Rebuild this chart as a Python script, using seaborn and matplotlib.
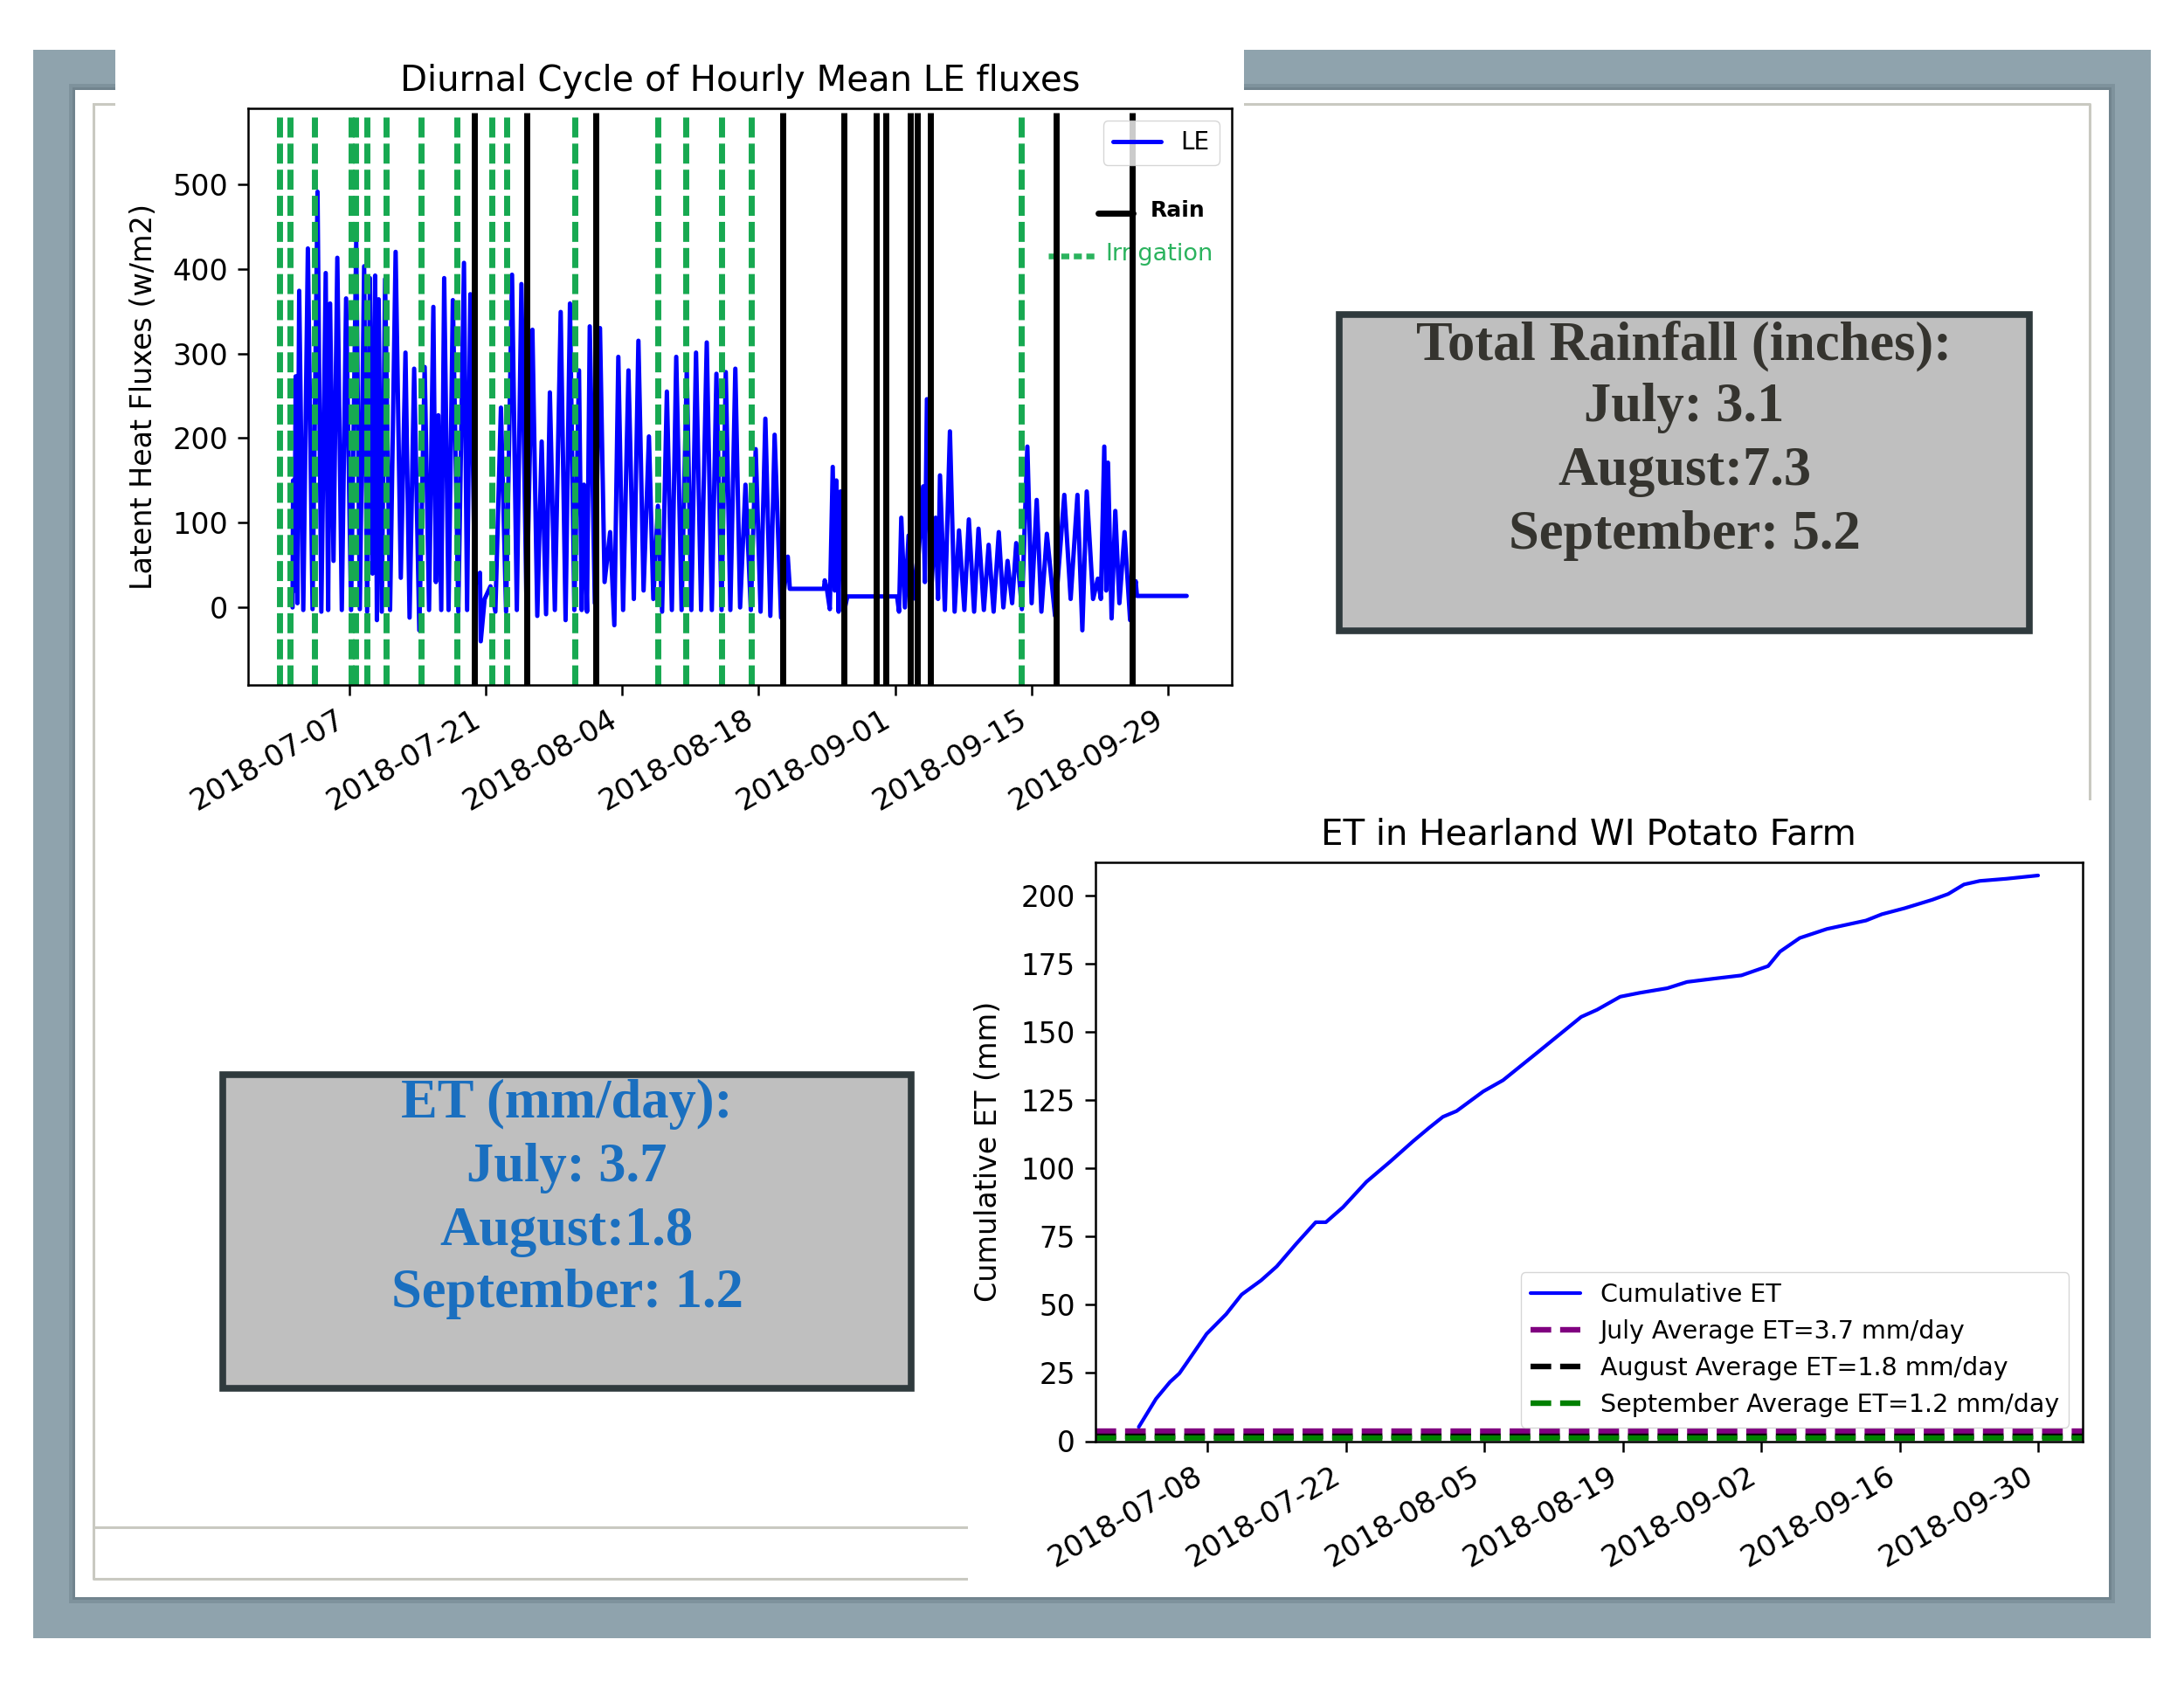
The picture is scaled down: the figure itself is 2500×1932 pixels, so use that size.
import numpy as np
import pandas as pd
import matplotlib
matplotlib.use("Agg")
import matplotlib.pyplot as plt
import matplotlib.dates as mdates
from matplotlib.patches import Rectangle
from matplotlib.lines import Line2D
import seaborn as sns

# ------------------------------------------------------------------ data
START = pd.Timestamp("2018-07-01")

# hourly LE trace, read as peak / trough vertices (days after 2018-07-01, W/m2)
le_day = [0.20, 0.25, 0.40, 0.52, 0.70, 0.88, 1.30, 1.77, 2.25, 2.76, 3.15, 3.60, 3.85, 4.05,
          4.40, 4.79, 5.25, 5.69, 6.20, 6.73, 7.10, 7.54, 7.85, 8.13, 8.40, 8.67, 8.85, 9.03,
          9.35, 9.69, 10.20, 10.77, 11.30, 11.78, 12.20, 12.67, 13.20, 13.75, 14.20, 14.64,
          14.90, 15.15, 15.45, 15.75, 16.20, 16.64, 17.20, 17.78, 18.10, 18.43, 18.90, 19.42,
          19.50, 19.90, 20.50, 21.00, 21.57, 22.10, 22.71, 23.20, 23.67, 24.20, 24.80, 25.30,
          25.75, 26.20, 26.59, 27.10, 27.70, 28.20, 28.65, 29.10, 29.58, 29.85, 30.08, 30.40,
          30.68, 31.20, 31.73, 32.20, 32.77, 33.20, 33.61, 34.10, 34.65, 35.20, 35.67, 36.20,
          36.75, 37.20, 37.67, 38.10, 38.59, 39.10, 39.55, 40.10, 40.63, 41.10, 41.58, 42.10,
          42.68, 43.20, 43.67, 44.20, 44.63, 45.10, 45.61, 46.10, 46.65, 47.20, 47.70, 48.20,
          48.69, 49.20, 49.64, 50.30, 50.99, 51.20, 54.70, 54.78, 55.00, 55.30, 55.60, 55.80,
          55.97, 56.20, 56.39, 56.80, 57.10, 62.20, 62.40, 62.63, 63.00, 63.38, 64.10, 64.87,
          65.05, 65.26, 65.70, 66.15, 66.40, 66.60, 67.10, 67.62, 68.10, 68.55, 69.10, 69.56,
          70.10, 70.55, 71.10, 71.59, 72.10, 72.63, 73.10, 73.53, 74.00, 74.42, 75.00, 75.56,
          76.00, 76.52, 77.00, 77.56, 78.40, 79.35, 80.00, 80.70, 81.20, 81.65, 82.30, 82.79,
          83.10, 83.45, 83.65, 83.83, 84.20, 84.58, 85.00, 85.53, 86.10, 86.67, 86.80, 91.90]
le_val = [0, 150, 20, 273, 5, 374, -3, 424, -2, 491, -5, 395, -3, 359,
          55, 413, -3, 365, -3, 433, -2, 403, -5, 389, 40, 392, -15, 364,
          -5, 388, -3, 420, 35, 301, -12, 282, -27, 284, -3, 355,
          30, 227, -3, 389, -3, 363, -5, 407, -3, 370, 25, 41,
          -40, 10, 25, -5, 236, -5, 393, -3, 382, -3, 328, -10,
          196, -8, 254, -3, 349, -15, 359, -3, 280, -3, 145, -5,
          332, 5, 330, 30, 89, -21, 296, -3, 280, 10, 315, 20,
          202, 10, 120, -5, 255, -3, 296, -3, 282, -3, 301, -3,
          313, -3, 276, -3, 278, -3, 282, 0, 145, -3, 187, -5,
          223, -10, 204, -12, 60, 22, 22, 32, 22, -2, 166, 20,
          150, -5, 137, -3, 13, 13, -5, 106, 0, 85, 10, 143,
          30, 246, 20, 106, 10, 156, -3, 208, -5, 91, -3, 104,
          -5, 93, -3, 74, -5, 89, 0, 55, 5, 76, -2, 190,
          5, 127, -5, 87, -10, 133, 10, 133, -27, 137, 10, 34,
          10, 190, 20, 171, -13, 114, 5, 89, -15, 31, 13.6, 13.6]

rain_day = [18.84, 24.22, 31.26, 50.48, 56.78, 60.09, 61.09, 63.57, 64.24, 65.64, 78.48, 86.27]
irrigation_day = [-1.09, -0.10, 2.43, 6.22, 6.70, 7.82, 9.78, 13.38, 17.02, 20.62, 22.13,
                  29.14, 37.66, 40.57, 44.17, 47.29, 74.97]

# cumulative ET (days after 2018-07-01, mm)
cum_et_day = [0.07, 1.81, 3.23, 4.17, 4.96, 6.93, 8.90, 10.47, 12.44, 14.02, 15.99, 17.96,
              18.99, 20.72, 23.09, 25.46, 27.82, 29.40, 30.82, 32.20, 34.90, 36.90, 40.46,
              44.80, 46.40, 48.75, 50.70, 53.50, 55.50, 58.20, 61.00, 63.70, 64.90, 66.90,
              69.64, 73.60, 75.20, 77.50, 80.30, 81.90, 83.50, 85.10, 87.80, 91.00]
cum_et_mm = [5.2, 15.5, 21.7, 24.8, 28.9, 39.3, 46.5, 53.7, 58.9, 64.0, 72.3, 80.2,
             80.2, 85.7, 95.0, 102.3, 109.9, 114.7, 118.8, 120.9, 128.1, 132.2, 142.6,
             155.4, 158.0, 162.8, 164.2, 165.9, 168.2, 169.4, 170.6, 174.0, 179.3, 184.3,
             187.6, 190.7, 193.0, 195.2, 198.3, 200.4, 203.9, 205.2, 206.0, 207.2]

avg_labels = ["July Average ET=3.7 mm/day", "August Average ET=1.8 mm/day",
              "September Average ET=1.2 mm/day"]
avg_values = [3.7, 1.8, 1.2]
avg_colors = ["purple", "black", "green"]

le_ticks = ["2018-07-07", "2018-07-21", "2018-08-04", "2018-08-18", "2018-09-01",
            "2018-09-15", "2018-09-29"]
et_ticks = ["2018-07-08", "2018-07-22", "2018-08-05", "2018-08-19", "2018-09-02",
            "2018-09-16", "2018-09-30"]
le_yticks = [0, 100, 200, 300, 400, 500]
et_yticks = [0, 25, 50, 75, 100, 125, 150, 175, 200]

rain_text = ["Total Rainfall (inches):", "July: 3.1", "August:7.3", "September: 5.2"]
et_text = ["ET (mm/day):", "July: 3.7", "August:1.8", "September: 1.2"]

# ------------------------------------------------------------------ style
sns.set_theme(style="ticks")
plt.rcParams["font.family"] = ["DejaVu Sans"]
plt.rcParams.update({
    "axes.edgecolor": "black", "axes.labelcolor": "black", "text.color": "black",
    "xtick.color": "black", "ytick.color": "black", "axes.linewidth": 1.8,
    "xtick.major.width": 1.8, "ytick.major.width": 1.8,
    "xtick.major.size": 8.4, "ytick.major.size": 8.4,
    "xtick.major.pad": 8, "ytick.major.pad": 8,
})

W, H = 2500, 1932
fig = plt.figure(figsize=(25, 19.32), dpi=100, facecolor="white")


def fx(x):
    return x / W


def fy(y):
    return 1 - y / H


def box(x0, y0, x1, y1, **kw):
    r = Rectangle((fx(x0), fy(y1)), (x1 - x0) / W, (y1 - y0) / H,
                  transform=fig.transFigure, **kw)
    fig.add_artist(r)
    return r


def fline(xs, ys, **kw):
    fig.add_artist(Line2D([fx(x) for x in xs], [fy(y) for y in ys],
                          transform=fig.transFigure, **kw))


# slide frame
box(38, 57, 2462, 1875, facecolor="#8fa3ad", edgecolor="none", zorder=-10)
box(79, 96, 2421, 1835, facecolor="#7e929c", edgecolor="none", zorder=-9.5)
box(83, 100, 2417, 1831, facecolor="#71848e", edgecolor="none", zorder=-9.2)
box(86, 103, 2414, 1828, facecolor="white", edgecolor="none", zorder=-9)
frame_col = "#c9c9c1"
fline([107, 2392, 2392, 107, 107], [119, 119, 1807, 1807, 119], color=frame_col, lw=2.2, zorder=-8)
fline([107, 1108], [1748, 1748], color=frame_col, lw=2.2, zorder=-8)
# pasted chart images (white)
box(132, 40, 1424, 950, facecolor="white", edgecolor="none", zorder=-7)
box(1108, 916, 2414, 1828, facecolor="white", edgecolor="none", zorder=-7)

# ------------------------------------------------------------------ top chart
ax1 = fig.add_axes([fx(284), fy(784.4), (1409.6 - 284) / W, (784.4 - 124.5) / H])
le_df = pd.DataFrame({"time": START + pd.to_timedelta(le_day, unit="D"), "LE": le_val})
sns.lineplot(data=le_df, x="time", y="LE", ax=ax1, color="blue", lw=3.6, label="LE",
             estimator=None, sort=False, zorder=1)
ax1.vlines(START + pd.to_timedelta(irrigation_day, unit="D"), -92, 584, colors="#17a951",
           linewidths=5, linestyles=(0, (3.3, 1.0)), zorder=2)
ax1.vlines(START + pd.to_timedelta(rain_day, unit="D"), -92, 584, colors="black",
           linewidths=5, zorder=2.1)
ax1.set_xlim(START + pd.Timedelta(days=-4.36), START + pd.Timedelta(days=96.49))
ax1.set_ylim(-92, 589)
ax1.set_yticks(le_yticks)
ax1.set_xticks(pd.to_datetime(le_ticks))
ax1.xaxis.set_major_formatter(mdates.DateFormatter("%Y-%m-%d"))
ax1.tick_params(axis="x", labelsize=24.5, labelrotation=30)
ax1.tick_params(axis="y", labelsize=24)
plt.setp(ax1.get_xticklabels(), ha="right")
ax1.set_xlabel("")
ax1.set_ylabel("Latent Heat Fluxes (w/m2)", fontsize=24, labelpad=12)
ax1.set_title("Diurnal Cycle of Hourly Mean LE fluxes", fontsize=29, pad=14.5)
ax1.legend(loc="upper right", fontsize=20, frameon=True, fancybox=True,
           edgecolor="0.8", framealpha=0.8)
# pasted annotations for rain / irrigation
ax1.add_line(Line2D([fx(1256.7), fx(1296.7)], [fy(244), fy(244)], transform=fig.transFigure,
                    color="black", lw=5, zorder=1.5, clip_on=False))
ax1.text(fx(1316.7), fy(248), "Rain", transform=fig.transFigure, fontsize=18,
         fontweight="bold", color="black", va="baseline", ha="left", zorder=1.5)
ax1.add_line(Line2D([fx(1200), fx(1253)], [fy(293), fy(293)], transform=fig.transFigure,
                    color="#2bb35e", lw=4.7, ls=(0, (1.4, 0.8)), zorder=1.5,
                    solid_capstyle="butt", dash_capstyle="butt", clip_on=False))
ax1.text(fx(1265), fy(298), "Irrigation", transform=fig.transFigure, fontsize=19.5,
         color="#2bb35e", va="baseline", ha="left", zorder=1.5)

# ------------------------------------------------------------------ bottom chart
ax2 = fig.add_axes([fx(1253.6), fy(1649.5), (2384 - 1253.6) / W, (1649.5 - 987) / H])
et_df = pd.DataFrame({"date": START + pd.to_timedelta(cum_et_day, unit="D"), "cum": cum_et_mm})
sns.lineplot(data=et_df, x="date", y="cum", ax=ax2, color="blue", lw=3,
             label="Cumulative ET", estimator=None, sort=False)
for v, c, lab in zip(avg_values, avg_colors, avg_labels):
    ax2.axhline(v, color=c, lw=4.6, ls="--", label=lab)
ax2.set_xlim(START + pd.Timedelta(days=-4.34), START + pd.Timedelta(days=95.5))
ax2.set_ylim(0, 212)
ax2.set_yticks(et_yticks)
ax2.set_xticks(pd.to_datetime(et_ticks))
ax2.xaxis.set_major_formatter(mdates.DateFormatter("%Y-%m-%d"))
ax2.tick_params(axis="x", labelsize=24.5, labelrotation=30)
ax2.tick_params(axis="y", labelsize=23.5)
plt.setp(ax2.get_xticklabels(), ha="right")
ax2.set_xlabel("")
ax2.set_ylabel("Cumulative ET (mm)", fontsize=24, labelpad=15)
ax2.set_title("ET in Hearland WI Potato Farm", fontsize=29, pad=14.5)
ax2.legend(loc="lower right", fontsize=20.5, frameon=True, fancybox=True,
           edgecolor="0.8", framealpha=0.8, borderaxespad=0.55)

# ------------------------------------------------------------------ text boxes
box(1533, 360, 2323, 722, facecolor="#bfbfbf", edgecolor="#2f3a3d", lw=5.5, zorder=1)
box(255, 1230, 1043, 1589, facecolor="#bfbfbf", edgecolor="#2f3a3d", lw=5.5, zorder=1)
for s, yb in zip(rain_text, [411, 482, 555, 627.5]):
    fig.text(fx(1928), fy(yb), s, ha="center", va="baseline", fontsize=45,
             fontweight="bold", family=["Liberation Serif", "DejaVu Serif"],
             color="#35342f", zorder=2)
for s, yb in zip(et_text, [1279, 1352, 1425, 1496]):
    fig.text(fx(649), fy(yb), s, ha="center", va="baseline", fontsize=45,
             fontweight="bold", family=["Liberation Serif", "DejaVu Serif"],
             color="#1a6fbf", zorder=2)

fig.savefig("out.png", dpi=100, facecolor="white")
